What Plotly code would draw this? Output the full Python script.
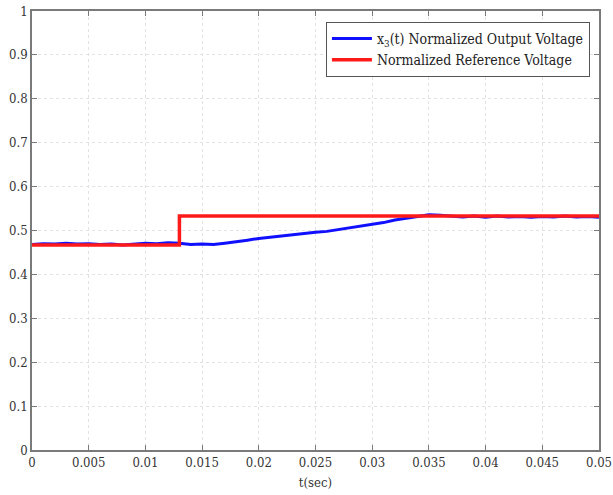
import plotly.graph_objects as go

# Time base (s) and measured normalized output voltage x3(t)
t_out = [0.000, 0.001, 0.002, 0.003, 0.004, 0.005, 0.006, 0.007, 0.008, 0.009,
         0.010, 0.011, 0.012, 0.013, 0.014, 0.015, 0.016, 0.017, 0.018, 0.019,
         0.020, 0.021, 0.022, 0.023, 0.024, 0.025, 0.026, 0.027, 0.028, 0.029,
         0.030, 0.031, 0.032, 0.033, 0.034, 0.035, 0.036, 0.037, 0.038, 0.039,
         0.040, 0.041, 0.042, 0.043, 0.044, 0.045, 0.046, 0.047, 0.048, 0.049,
         0.050]
v_out = [0.468, 0.470, 0.469, 0.471, 0.469, 0.470, 0.468, 0.469, 0.467, 0.469,
         0.471, 0.470, 0.472, 0.471, 0.468, 0.469, 0.468, 0.471, 0.474, 0.478,
         0.482, 0.485, 0.487, 0.490, 0.493, 0.496, 0.498, 0.502, 0.506, 0.510,
         0.514, 0.518, 0.524, 0.528, 0.532, 0.536, 0.535, 0.533, 0.531, 0.533,
         0.530, 0.533, 0.531, 0.532, 0.530, 0.532, 0.531, 0.533, 0.531, 0.532,
         0.530]

# Reference voltage: step change at t = 0.013 s
t_ref = [0.0, 0.013, 0.013, 0.05]
v_ref = [0.467, 0.467, 0.533, 0.533]

x_ticks = [0, 0.005, 0.01, 0.015, 0.02, 0.025, 0.03, 0.035, 0.04, 0.045, 0.05]
x_labels = ["0", "0.005", "0.01", "0.015", "0.02", "0.025", "0.03", "0.035", "0.04", "0.045", "0.05"]
y_ticks = [0, 0.1, 0.2, 0.3, 0.4, 0.5, 0.6, 0.7, 0.8, 0.9, 1]
y_labels = ["0", "0.1", "0.2", "0.3", "0.4", "0.5", "0.6", "0.7", "0.8", "0.9", "1"]

serif = "DejaVu Serif Condensed, DejaVu Serif"

fig = go.Figure()
fig.add_trace(go.Scatter(
    x=t_out, y=v_out, mode="lines",
    line=dict(color="#1010ff", width=3),
    name="x<sub>3</sub>(t) Normalized Output Voltage",
))
fig.add_trace(go.Scatter(
    x=t_ref, y=v_ref, mode="lines",
    line=dict(color="#ff1a1a", width=3.5),
    name="Normalized Reference Voltage",
))

axis_common = dict(
    showline=True, linecolor="#7a7a7a", linewidth=1.5, mirror="ticks",
    ticks="inside", ticklen=5, tickcolor="#7a7a7a",
    showgrid=True, gridcolor="#e2e2e2", griddash="dot", gridwidth=1,
    zeroline=False, automargin=False, ticklabeloverflow="allow",
    tickfont=dict(family=serif, size=13, color="#333333"),
)

fig.update_xaxes(range=[0, 0.05], tickvals=x_ticks, ticktext=x_labels,
                 title=dict(text="t(sec)", font=dict(family=serif, size=13, color="#333333"),
                            standoff=9),
                 **axis_common)
fig.update_yaxes(range=[0, 1], tickvals=y_ticks, ticktext=y_labels, **axis_common)

fig.update_layout(
    width=613, height=495,
    margin=dict(l=32, r=14, t=11, b=45),
    paper_bgcolor="white", plot_bgcolor="white",
    font=dict(family=serif),
    showlegend=True,
    legend=dict(
        x=0.984, y=0.975, xanchor="right", yanchor="top",
        bgcolor="white", bordercolor="#555555", borderwidth=1,
        font=dict(family=serif, size=14, color="#222222"),
        tracegroupgap=0, itemwidth=40,
    ),
)

fig.write_html("out.html")
